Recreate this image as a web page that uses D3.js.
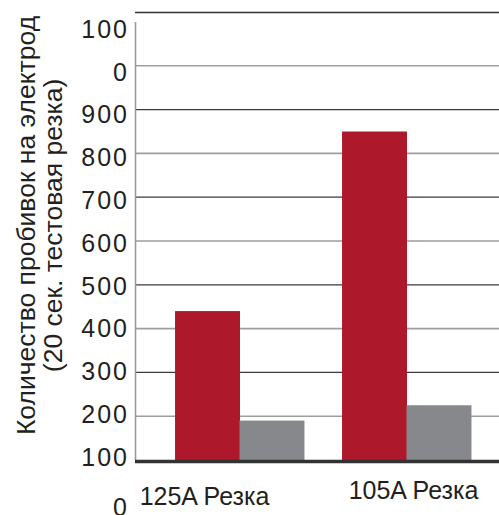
<!DOCTYPE html>
<html>
<head>
<meta charset="utf-8">
<script src="https://cdn.jsdelivr.net/npm/d3@7"></script>
<style>
  html, body { margin: 0; padding: 0; background: #fff; }
  svg { display: block; font-family: "Liberation Sans", Arial, sans-serif; }
</style>
</head>
<body>
<div id="viz"></div>
<script>
// Pierces per electrode, two cutting modes, two products (red vs gray)
const CATEGORIES = ["125A Резка", "105A Резка"];
const SERIES = ["series1", "series2"];
const RED_VALUES = [340, 750];
const GRAY_VALUES = [90, 125];
const TICK_VALUES = [1000, 900, 800, 700, 600, 500, 400, 300, 200, 100, 0];
const TITLE_LINES = ["Количество пробивок на электрод", "(20 сек. тестовая резка)"];

const W = 499, H = 515;
const RED = "#AD182B";
const GRAY = "#87888B";
const INK = "#231F20";
const AXIS_X = 135;
const FONT = 25;

const svg = d3.select("#viz").append("svg").attr("width", W).attr("height", H);

const y = d3.scaleLinear().domain([0, 1000]).range([460, 22]);

const x0 = d3.scaleBand()
  .domain(CATEGORIES)
  .range([156, 490])
  .paddingInner(0.228)
  .paddingOuter(0.114);

const x1 = d3.scaleBand().domain(SERIES).range([0, x0.bandwidth()]);
const color = d3.scaleOrdinal().domain(SERIES).range([RED, GRAY]);

// top frame line
svg.append("line")
  .attr("x1", AXIS_X).attr("x2", W)
  .attr("y1", 12.5).attr("y2", 12.5)
  .attr("stroke", "#333").attr("stroke-width", 1.3);

// gridlines, alternating dark / light
const grid = TICK_VALUES.filter(v => v > 0 && v < 1000);
svg.append("g").selectAll("line").data(grid).join("line")
  .attr("x1", AXIS_X).attr("x2", W)
  .attr("y1", d => y(d)).attr("y2", d => y(d))
  .attr("stroke", d => (d / 100) % 2 === 0 ? "#3a3a3a" : "#9d9d9d")
  .attr("stroke-width", d => (d / 100) % 2 === 0 ? 1.2 : 1.6);

// vertical axis
svg.append("line")
  .attr("x1", AXIS_X + 0.5).attr("x2", AXIS_X + 0.5)
  .attr("y1", y(1000)).attr("y2", y(0))
  .attr("stroke", "#9a9a9a").attr("stroke-width", 1.6);

// bars
const rows = CATEGORIES.map((c, i) => ({ cat: c, vals: [RED_VALUES[i], GRAY_VALUES[i]] }));
svg.append("g").selectAll("g").data(rows).join("g")
  .attr("transform", d => `translate(${x0(d.cat)},0)`)
  .selectAll("rect")
  .data(d => SERIES.map((s, j) => ({ s, v: d.vals[j] })))
  .join("rect")
  .attr("x", d => x1(d.s))
  .attr("y", d => y(d.v))
  .attr("width", x1.bandwidth() + 0.5)
  .attr("height", d => y(0) - y(d.v))
  .attr("fill", d => color(d.s));

// baseline
svg.append("line")
  .attr("x1", AXIS_X).attr("x2", W)
  .attr("y1", y(0) + 1.5).attr("y2", y(0) + 1.5)
  .attr("stroke", "#333").attr("stroke-width", 3.5);

// tick labels: a narrow text box, so "1000" wraps onto two lines and pushes the rest down
const tickLines = [];
TICK_VALUES.forEach(v => {
  const s = String(v);
  if (s.length > 3) { tickLines.push(s.slice(0, 3)); tickLines.push(s.slice(3)); }
  else tickLines.push(s);
});
const LINE_H = 42.8;
svg.append("g").selectAll("text").data(tickLines).join("text")
  .attr("x", 129)
  .attr("y", (d, i) => 29 + i * LINE_H + 0.355 * FONT + (i === tickLines.length - 1 ? 7 : 0))
  .attr("text-anchor", "end")
  .attr("font-size", FONT)
  .attr("letter-spacing", 2)
  .attr("fill", INK)
  .text(d => d);

// category labels
const LABEL_NUDGE = [{ dx: -35, dy: 505 }, { dx: 7, dy: 499 }];
svg.append("g").selectAll("text").data(CATEGORIES).join("text")
  .attr("x", (d, i) => x0(d) + x0.bandwidth() / 2 + LABEL_NUDGE[i].dx)
  .attr("y", (d, i) => LABEL_NUDGE[i].dy)
  .attr("text-anchor", "middle")
  .attr("font-size", FONT)
  .attr("fill", INK)
  .text(d => d);

// y title
const title = svg.append("text")
  .attr("transform", "translate(0,225.5) rotate(-90)")
  .attr("text-anchor", "middle")
  .attr("font-size", 26.5)
  .attr("fill", INK);
TITLE_LINES.forEach((t, i) => {
  title.append("tspan").attr("x", 0).attr("y", i === 0 ? 35 : 62).text(t);
});
</script>
</body>
</html>
